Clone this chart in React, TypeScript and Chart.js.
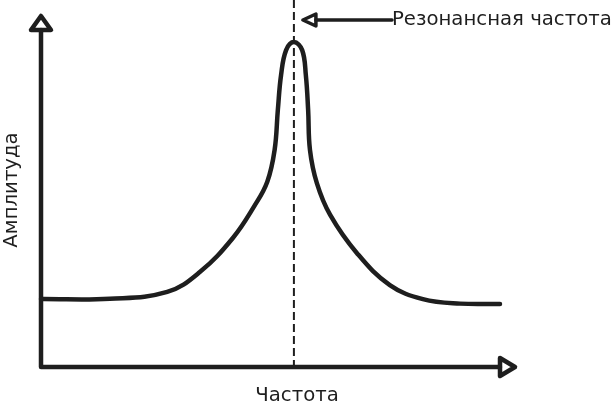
import React, { useEffect, useRef } from "react";
import { Chart, registerables } from "chart.js";

Chart.register(...registerables);

// Frequency (x) and amplitude (y), in arbitrary units 0..100
const frequency = [0, 15.0, 27.5, 34.6, 41.8, 46.6, 49.3, 50.9, 51.6, 52.3, 53.4, 55.1, 56.9, 57.7, 58.2, 58.6, 60.1, 63.0, 68.8, 76.0, 83.2, 91.3, 100];
const amplitude = [20.9, 21.0, 23.1, 29.2, 39.7, 49.8, 57.0, 66.8, 79.1, 89.8, 97.5, 100, 97.5, 89.8, 79.1, 66.8, 56.6, 46.8, 35.1, 25.2, 20.9, 19.5, 19.4];
const resonanceFrequency = 55.1;

const xAxisLabel = "Частота";
const yAxisLabel = "Амплитуда";
const resonanceLabel = "Резонансная частота";

const INK = "#1e1e1e";
const FONT = "'DejaVu Sans', sans-serif";

const sketchPlugin = {
  id: "sketch",
  beforeDatasetsDraw(chart: any) {
    const { ctx, chartArea } = chart;
    const { left, right, bottom } = chartArea;
    const xs = chart.scales.x;
    ctx.save();
    // dashed resonance line
    const rx = xs.getPixelForValue(resonanceFrequency);
    ctx.strokeStyle = INK;
    ctx.lineWidth = 2;
    ctx.setLineDash([8, 4]);
    ctx.beginPath();
    ctx.moveTo(rx, 0);
    ctx.lineTo(rx, bottom);
    ctx.stroke();
    ctx.setLineDash([]);

    // axes
    ctx.lineWidth = 4.5;
    ctx.lineJoin = "round";
    ctx.lineCap = "round";
    ctx.beginPath();
    ctx.moveTo(left, 30);
    ctx.lineTo(left, bottom);
    ctx.lineTo(right, bottom);
    ctx.stroke();
    // y arrow head
    ctx.beginPath();
    ctx.moveTo(left - 10, 30);
    ctx.lineTo(left, 16);
    ctx.lineTo(left + 10, 30);
    ctx.closePath();
    ctx.stroke();
    // x arrow head
    ctx.beginPath();
    ctx.moveTo(right, bottom - 9);
    ctx.lineTo(right + 15, bottom);
    ctx.lineTo(right, bottom + 9);
    ctx.closePath();
    ctx.stroke();

    // annotation arrow
    ctx.lineWidth = 3.5;
    ctx.beginPath();
    ctx.moveTo(rx + 22, 20);
    ctx.lineTo(392, 20);
    ctx.stroke();
    ctx.beginPath();
    ctx.moveTo(rx + 9, 20);
    ctx.lineTo(rx + 22, 14);
    ctx.lineTo(rx + 22, 26);
    ctx.closePath();
    ctx.stroke();
    ctx.restore();
  },
  afterDraw(chart: any) {
    const { ctx } = chart;
    ctx.save();
    ctx.fillStyle = INK;
    ctx.font = `19.7px ${FONT}`;
    ctx.textBaseline = "alphabetic";
    ctx.textAlign = "left";
    ctx.fillText(resonanceLabel, 392, 25);

    ctx.textAlign = "center";
    ctx.fillText(xAxisLabel, 297, 401);

    ctx.translate(17, 190);
    ctx.rotate(-Math.PI / 2);
    ctx.fillText(yAxisLabel, 0, 0);
    ctx.restore();
  },
};

export default function App() {
  const ref = useRef<HTMLCanvasElement | null>(null);
  useEffect(() => {
    document.body.style.margin = "0";
    if (!ref.current) return;
    const chart = new Chart(ref.current, {
      type: "line",
      data: {
        datasets: [
          {
            data: frequency.map((f, i) => ({ x: f, y: amplitude[i] })),
            borderColor: INK,
            borderWidth: 4.5,
            borderCapStyle: "round",
            borderJoinStyle: "round",
            pointRadius: 0,
            tension: 0.4,
            fill: false,
            clip: false as any,
          },
        ],
      },
      options: {
        responsive: false,
        animation: false,
        layout: { padding: { left: 41, right: 113, top: 42, bottom: 36 } },
        scales: {
          x: { type: "linear", min: 0, max: 100, display: false },
          y: { type: "linear", min: 0, max: 100, display: false },
        },
        plugins: { legend: { display: false }, tooltip: { enabled: false } },
      },
      plugins: [sketchPlugin],
    });
    return () => chart.destroy();
  }, []);
  return (
    <div style={{ width: 613, height: 403, background: "#fff" }}>
      <canvas ref={ref} width={613} height={403} style={{ display: "block" }} />
    </div>
  );
}
